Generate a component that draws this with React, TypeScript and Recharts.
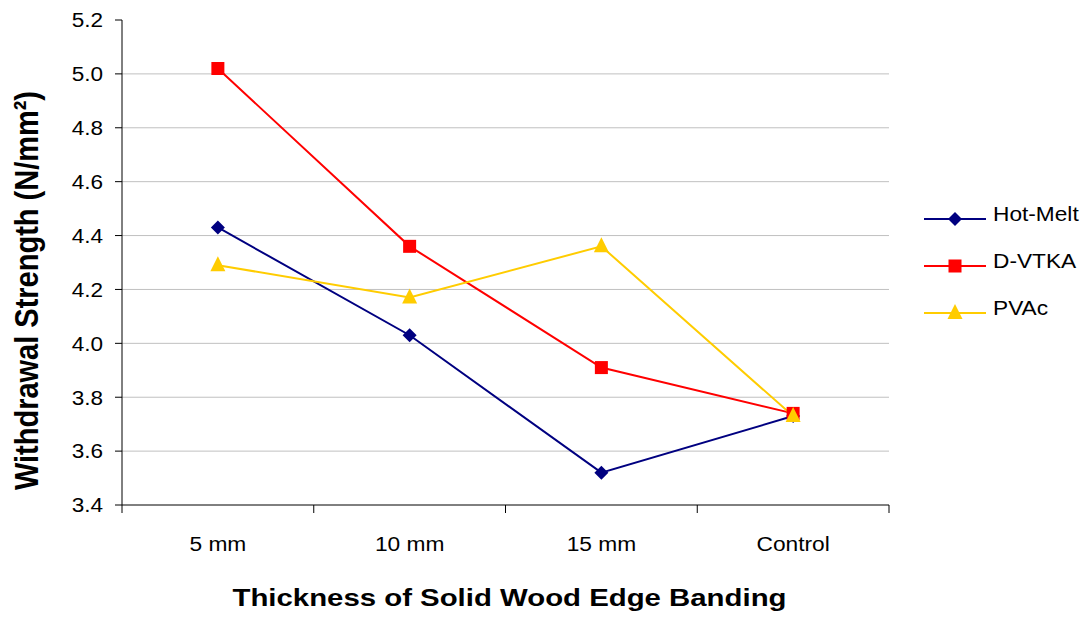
import { LineChart, Line, XAxis, YAxis, CartesianGrid, Legend } from "recharts";

const categories = ["5 mm", "10 mm", "15 mm", "Control"];
const hotMelt = [4.43, 4.03, 3.52, 3.73];
const dVtka = [5.02, 4.36, 3.91, 3.74];
const pvac = [4.29, 4.17, 4.36, 3.73];
const yTicks = [3.4, 3.6, 3.8, 4.0, 4.2, 4.4, 4.6, 4.8, 5.0, 5.2];
const gridValues = [3.6, 3.8, 4.0, 4.2, 4.4, 4.6, 4.8, 5.0];

const seriesList = [
  { key: "hotMelt", name: "Hot-Melt", color: "#000080", marker: "diamond" },
  { key: "dVtka", name: "D-VTKA", color: "#FF0000", marker: "square" },
  { key: "pvac", name: "PVAc", color: "#FFCC00", marker: "triangle" },
];

const data = categories.map((cat, i) => ({
  cat,
  hotMelt: hotMelt[i],
  dVtka: dVtka[i],
  pvac: pvac[i],
}));

const FONT = '"Liberation Sans", Arial, sans-serif';
const X_TICK_SIZE = 8;
const X_TICK_MARGIN = 23;

function Marker({ type, cx, cy, color }: { type: string; cx: number; cy: number; color: string }) {
  if (type === "diamond")
    return <polygon points={`${cx},${cy - 7} ${cx + 7},${cy} ${cx},${cy + 7} ${cx - 7},${cy}`} fill={color} />;
  if (type === "square") return <rect x={cx - 6.5} y={cy - 6.5} width={13} height={13} fill={color} />;
  return <polygon points={`${cx},${cy - 9} ${cx + 7.5},${cy + 6} ${cx - 7.5},${cy + 6}`} fill={color} />;
}

function LegendBox() {
  return (
    <div style={{ fontFamily: FONT, fontSize: 21, color: "#000" }}>
      {seriesList.map((s) => (
        <div key={s.key} style={{ height: 47, display: "flex", alignItems: "center" }}>
          <svg width={66} height={20} style={{ display: "block" }}>
            <line x1={2} y1={10} x2={64} y2={10} stroke={s.color} strokeWidth={2} />
            <Marker type={s.marker} cx={33} cy={10} color={s.color} />
          </svg>
          <span
            style={{
              marginLeft: 5,
              display: "inline-block",
              position: "relative",
              top: -5,
              transform: "scaleX(1.08)",
              transformOrigin: "left center",
            }}
          >
            {s.name}
          </span>
        </div>
      ))}
    </div>
  );
}

// category label plus the tick marks on the band edges
function XTick(props: any) {
  const { x, y, payload, index } = props;
  const half = payload.offset || 0;
  const axisY = y - X_TICK_SIZE - X_TICK_MARGIN;
  return (
    <g>
      <line x1={x - half} y1={axisY} x2={x - half} y2={axisY + X_TICK_SIZE} stroke="#000" />
      {index === categories.length - 1 && (
        <line x1={x + half} y1={axisY} x2={x + half} y2={axisY + X_TICK_SIZE} stroke="#000" />
      )}
      <text
        transform={`translate(${x},${y}) scale(1.11,1)`}
        textAnchor="middle"
        dy="0.71em"
        fontFamily={FONT}
        fontSize={20.5}
        fill="#000"
      >
        {payload.value}
      </text>
    </g>
  );
}

function YTick(props: any) {
  const { x, y, payload } = props;
  return (
    <text
      transform={`translate(${x},${y}) scale(1.1,1)`}
      textAnchor="end"
      dy="0.355em"
      fontFamily={FONT}
      fontSize={20.5}
      fill="#000"
    >
      {Number(payload.value).toFixed(1)}
    </text>
  );
}

function XTitle(props: any) {
  const { x, y, width } = props.viewBox;
  return (
    <text
      x={x + width / 2 + 4}
      y={y + 101}
      textAnchor="middle"
      textLength={554}
      lengthAdjust="spacingAndGlyphs"
      fontFamily={FONT}
      fontWeight="bold"
      fontSize={24.5}
      fill="#000"
    >
      Thickness of Solid Wood Edge Banding
    </text>
  );
}

function YTitle(props: any) {
  const { y, height } = props.viewBox;
  return (
    <text
      transform={`translate(38,${y + height / 2 + 28}) scale(1.14,1) rotate(-90)`}
      textAnchor="middle"
      fontFamily={FONT}
      fontWeight="bold"
      fontSize={29}
      fill="#000"
    >
      Withdrawal Strength (N/mm²)
    </text>
  );
}

export default function App() {
  return (
    <div style={{ position: "absolute", left: 0, top: 0, background: "#fff" }}>
      <LineChart width={1090} height={618} data={data} margin={{ top: 20, right: 201, bottom: 0, left: 0 }}>
        <CartesianGrid vertical={false} horizontalValues={gridValues} stroke="#c0c0c0" />
        <XAxis
          dataKey="cat"
          scale="band"
          height={113}
          axisLine={{ stroke: "#000" }}
          tickLine={false}
          tickSize={X_TICK_SIZE}
          tickMargin={X_TICK_MARGIN}
          tick={<XTick />}
          interval={0}
          label={{ content: XTitle }}
        />
        <YAxis
          width={122}
          domain={[3.4, 5.2]}
          ticks={yTicks}
          axisLine={{ stroke: "#000" }}
          tickLine={{ stroke: "#000" }}
          tickSize={7}
          tickMargin={12}
          tick={<YTick />}
          label={{ content: YTitle }}
        />
        <Legend
          layout="horizontal"
          align="center"
          verticalAlign="middle"
          wrapperStyle={{ left: 922, top: 195.5, width: 168 }}
          content={<LegendBox />}
        />
        {seriesList.map((s) => (
          <Line
            key={s.key}
            dataKey={s.key}
            name={s.name}
            stroke={s.color}
            strokeWidth={2}
            isAnimationActive={false}
            dot={(p: any) => <Marker key={`${s.key}-${p.index}`} type={s.marker} cx={p.cx} cy={p.cy} color={s.color} />}
            activeDot={false}
          />
        ))}
      </LineChart>
    </div>
  );
}
